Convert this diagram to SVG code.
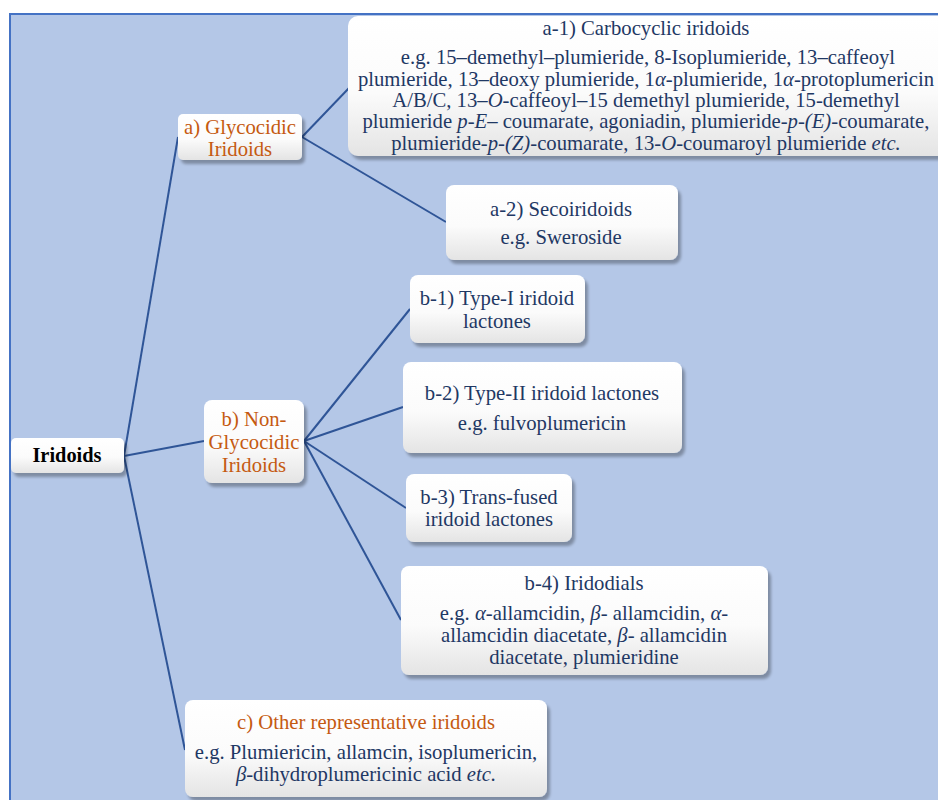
<svg xmlns="http://www.w3.org/2000/svg" width="938" height="800" viewBox="0 0 938 800">
<style>
text{font-family:"Liberation Serif","Times New Roman",serif;font-size:20.7px;fill:#1F3864;text-anchor:middle}
.o{fill:#C55A11}
.b{fill:#000;font-weight:bold;font-size:20.4px}
.box{fill:url(#g);filter:url(#sh)}
.c line{stroke:#2F5597;stroke-width:2}
</style>
<defs>
<linearGradient id="g" x1="0" y1="0" x2="0" y2="1">
<stop offset="0" stop-color="#ffffff"/>
<stop offset="0.55" stop-color="#fbfbfb"/>
<stop offset="1" stop-color="#e4e4e4"/>
</linearGradient>
<filter id="sh" x="-10%" y="-10%" width="130%" height="140%">
<feGaussianBlur in="SourceAlpha" stdDeviation="1.5"/>
<feOffset dx="3" dy="4" result="o"/>
<feComponentTransfer><feFuncA type="linear" slope="0.3"/></feComponentTransfer>
<feMerge><feMergeNode/><feMergeNode in="SourceGraphic"/></feMerge>
</filter>
</defs>
<rect x="10" y="14" width="940" height="800" fill="#B4C7E7" stroke="#4472C4" stroke-width="2"/>
<g class="c" id="connectors">
<line x1="124" y1="456" x2="178" y2="137"/>
<line x1="124" y1="456" x2="204" y2="441"/>
<line x1="124" y1="456" x2="185" y2="750"/>
<line x1="302" y1="137" x2="349" y2="88"/>
<line x1="302" y1="137" x2="446" y2="222"/>
<line x1="304" y1="441" x2="410" y2="309"/>
<line x1="304" y1="441" x2="403" y2="407"/>
<line x1="304" y1="441" x2="406" y2="508"/>
<line x1="304" y1="441" x2="401" y2="620"/>
</g>
<g id="n-iridoids">
<rect class="box" x="11" y="438" width="113" height="35" rx="5"/>
<text class="b" x="67" y="462">Iridoids</text>
</g>
<g id="n-a">
<rect class="box" x="178" y="114" width="124" height="46" rx="5"/>
<text class="o" x="240" y="134">a) Glycocidic</text>
<text class="o" x="240" y="156">Iridoids</text>
</g>
<g id="n-a1">
<rect class="box" x="348" y="16" width="600" height="140" rx="10"/>
<text x="646" y="35">a-1) Carbocyclic iridoids</text>
<text x="648" y="64">e.g. 15–demethyl–plumieride, 8-Isoplumieride,  13–caffeoyl</text>
<text x="646" y="86">plumieride, 13–deoxy plumieride, 1<tspan font-style="italic">α</tspan>-plumieride, 1<tspan font-style="italic">α</tspan>-protoplumericin</text>
<text x="646" y="107">A/B/C,  13–<tspan font-style="italic">O</tspan>-caffeoyl–15 demethyl plumieride, 15-demethyl</text>
<text x="646" y="128">plumieride <tspan font-style="italic">p-E</tspan>– coumarate, agoniadin,  plumieride-<tspan font-style="italic">p-(E)</tspan>-coumarate,</text>
<text x="646" y="150">plumieride-<tspan font-style="italic">p-(Z)</tspan>-coumarate, 13-<tspan font-style="italic">O</tspan>-coumaroyl plumieride <tspan font-style="italic">etc.</tspan></text>
</g>
<g id="n-a2">
<rect class="box" x="446" y="185" width="232" height="75" rx="8"/>
<text x="561" y="216">a-2) Secoiridoids</text>
<text x="561" y="244">e.g. Sweroside</text>
</g>
<g id="n-b">
<rect class="box" x="204" y="400" width="100" height="83" rx="8"/>
<text class="o" x="254" y="426">b) Non-</text>
<text class="o" x="254" y="449">Glycocidic</text>
<text class="o" x="254" y="472">Iridoids</text>
</g>
<g id="n-b1">
<rect class="box" x="410" y="275" width="175" height="68" rx="8"/>
<text x="497" y="305">b-1) Type-I iridoid</text>
<text x="497" y="328">lactones</text>
</g>
<g id="n-b2">
<rect class="box" x="403" y="362" width="279" height="91" rx="8"/>
<text x="542" y="400">b-2) Type-II iridoid lactones</text>
<text x="542" y="430">e.g. fulvoplumericin</text>
</g>
<g id="n-b3">
<rect class="box" x="406" y="474" width="166" height="68" rx="8"/>
<text x="489" y="504">b-3) Trans-fused</text>
<text x="489" y="526">iridoid lactones</text>
</g>
<g id="n-b4">
<rect class="box" x="401" y="566" width="367" height="109" rx="8"/>
<text x="584" y="590">b-4) Iridodials</text>
<text x="584" y="620">e.g. <tspan font-style="italic">α</tspan>-allamcidin, <tspan font-style="italic">β</tspan>- allamcidin, <tspan font-style="italic">α</tspan>-</text>
<text x="584" y="642">allamcidin diacetate, <tspan font-style="italic">β</tspan>- allamcidin</text>
<text x="584" y="664">diacetate, plumieridine</text>
</g>
<g id="n-c">
<rect class="box" x="185" y="700" width="362" height="97" rx="8"/>
<text class="o" x="366" y="729">c) Other representative iridoids</text>
<text x="366" y="759">e.g. Plumiericin, allamcin, isoplumericin,</text>
<text x="366" y="781"><tspan font-style="italic">β</tspan>-dihydroplumericinic acid <tspan font-style="italic">etc.</tspan></text>
</g>
</svg>
